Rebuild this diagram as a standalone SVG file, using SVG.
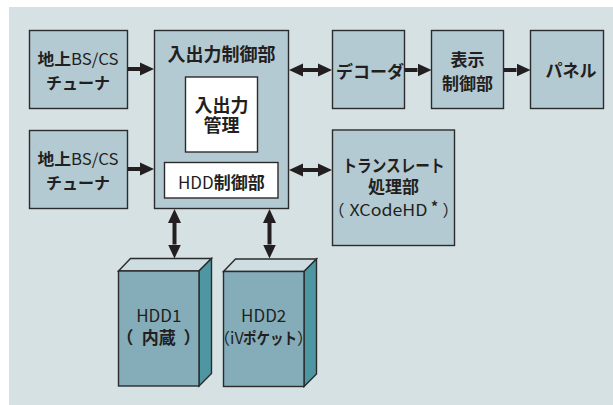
<svg xmlns="http://www.w3.org/2000/svg" width="613" height="405" viewBox="0 0 613 405">
<style>
.box{fill:#b4cad2;stroke:#2b2b2b;stroke-width:1.4}
.wbox{fill:#ffffff;stroke:#2b2b2b;stroke-width:1.4}
.front{fill:#84adb9;stroke:#2b2b2b;stroke-width:1.4}
.side{fill:#4e97a2;stroke:#2b2b2b;stroke-width:1.4}
.top{fill:#cddde2;stroke:#2b2b2b;stroke-width:1.4}
.t{font-family:"Noto Sans CJK JP","Noto Sans",sans-serif;fill:#231f20;text-anchor:middle}
.s{text-anchor:start}
.b{font-weight:bold}
.r{font-weight:normal}
.con line{stroke:#231f20;stroke-width:4}
</style>
<defs>
<marker id="ah" markerUnits="userSpaceOnUse" markerWidth="14" markerHeight="14" refX="0" refY="7" orient="auto-start-reverse" viewBox="0 0 14 14">
<path d="M0,0.5 L14,7 L0,13.5 z" fill="#231f20"/>
</marker>
</defs>
<rect x="9" y="7" width="604" height="398" fill="#d6e1e4"/>

<g id="tuner1">
<rect class="box" x="29.5" y="30.5" width="98" height="78"/>
<text class="t" x="78" y="65" font-size="16" textLength="81" lengthAdjust="spacingAndGlyphs"><tspan class="b">地上</tspan><tspan class="r">BS/CS</tspan></text>
<text class="t b" x="78" y="89" font-size="16">チューナ</text>
</g>
<g id="tuner2">
<rect class="box" x="29.5" y="130.5" width="98" height="78"/>
<text class="t" x="78" y="165" font-size="16" textLength="81" lengthAdjust="spacingAndGlyphs"><tspan class="b">地上</tspan><tspan class="r">BS/CS</tspan></text>
<text class="t b" x="78" y="189" font-size="16">チューナ</text>
</g>
<g id="io-control">
<rect class="box" x="154.5" y="30.5" width="134" height="178"/>
<text class="t b" x="221.5" y="61" font-size="18">入出力制御部</text>
</g>
<g id="io-manage">
<rect class="wbox" x="185.5" y="77" width="72" height="75"/>
<text class="t b" x="221.5" y="112" font-size="18">入出力</text>
<text class="t b" x="221.5" y="132" font-size="18">管理</text>
</g>
<g id="hdd-control">
<rect class="wbox" x="164.5" y="162.5" width="113.5" height="35.5"/>
<text class="t" x="221.3" y="189" font-size="17"><tspan class="r">HDD</tspan><tspan class="b">制御部</tspan></text>
</g>
<g id="decoder">
<rect class="box" x="332.5" y="30.5" width="72" height="78"/>
<text class="t b" x="370" y="78" font-size="17">デコーダ</text>
</g>
<g id="display-control">
<rect class="box" x="431.5" y="30.5" width="72" height="78"/>
<text class="t b" x="467.5" y="66" font-size="17">表示</text>
<text class="t b" x="467.5" y="90" font-size="17">制御部</text>
</g>
<g id="panel">
<rect class="box" x="530.5" y="30.5" width="73" height="78"/>
<text class="t b" x="571" y="77" font-size="17">パネル</text>
</g>
<g id="translate">
<rect class="box" x="332.5" y="130" width="122" height="115.5"/>
<text class="t b" x="393.5" y="172" font-size="17" textLength="102" lengthAdjust="spacingAndGlyphs">トランスレート</text>
<text class="t b" x="393.5" y="193" font-size="17">処理部</text>
<text class="t r" x="336.5" y="216" font-size="16">（</text>
<text class="t r s" x="349.5" y="216" font-size="16" textLength="78" lengthAdjust="spacingAndGlyphs">XCodeHD</text>
<text class="t b" x="434.5" y="212" font-size="14">*</text>
<text class="t r" x="450.5" y="216" font-size="16">）</text>
</g>
<g id="hdd1">
<polygon class="top" points="118.5,271 130.5,258.5 211.5,258.5 199,271"/>
<polygon class="side" points="199,271 211.5,258.5 211.5,373.5 199,386"/>
<rect class="front" x="118.5" y="271" width="80.5" height="115"/>
<text class="t r" x="158.8" y="322" font-size="17">HDD1</text>
<text class="t b" x="125" y="344" font-size="17">（</text>
<text class="t b" x="158.8" y="344" font-size="17">内蔵</text>
<text class="t b" x="192" y="344" font-size="17">）</text>
</g>
<g id="hdd2">
<polygon class="top" points="223.5,271.5 235.5,259 316.5,259 304,271.5"/>
<polygon class="side" points="304,271.5 316.5,259 316.5,374 304,386.5"/>
<rect class="front" x="223.5" y="271.5" width="80.5" height="115"/>
<text class="t r" x="263.7" y="322" font-size="17">HDD2</text>
<text class="t r" x="222" y="344" font-size="16">（</text>
<text class="t r s" x="230" y="344" font-size="16">iV</text>
<text class="t b s" x="243" y="344" font-size="16" textLength="54" lengthAdjust="spacingAndGlyphs">ポケット</text>
<text class="t r" x="305" y="344" font-size="16">）</text>
</g>

<g id="connectors" class="con">
<line x1="128" y1="69" x2="140" y2="69" marker-end="url(#ah)"/>
<line x1="128" y1="169" x2="140" y2="169" marker-end="url(#ah)"/>
<line x1="303" y1="70" x2="318" y2="70" marker-start="url(#ah)" marker-end="url(#ah)"/>
<line x1="405" y1="70" x2="417.5" y2="70" marker-end="url(#ah)"/>
<line x1="504" y1="70" x2="516.5" y2="70" marker-end="url(#ah)"/>
<line x1="303" y1="170" x2="318" y2="170" marker-start="url(#ah)" marker-end="url(#ah)"/>
<line x1="174.5" y1="223" x2="174.5" y2="244.5" marker-start="url(#ah)" marker-end="url(#ah)"/>
<line x1="269.5" y1="223" x2="269.5" y2="244.5" marker-start="url(#ah)" marker-end="url(#ah)"/>
</g>
</svg>
